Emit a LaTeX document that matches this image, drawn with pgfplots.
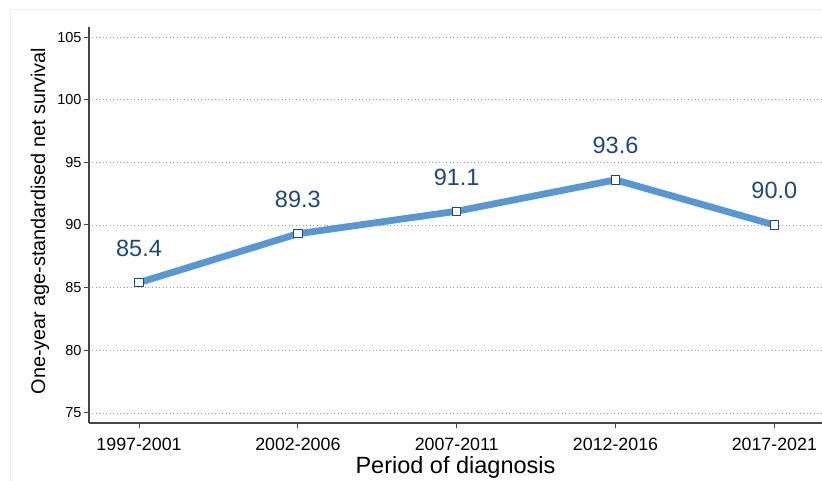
\documentclass[border=0pt]{standalone}
\usepackage{pgfplots}
\pgfplotsset{compat=1.18}
\usepackage{fontspec}
\setmainfont{Liberation Sans}
\definecolor{lineblue}{RGB}{88,151,210}
\definecolor{labblue}{RGB}{30,72,115}
\definecolor{axgray}{RGB}{70,70,70}
\definecolor{framegray}{RGB}{238,238,238}
\begin{document}
\begin{tikzpicture}
\begin{axis}[
  scale only axis, width=733pt, height=396pt,
  at={(0pt,0pt)}, anchor=south west,
  xmin=-0.315, xmax=4.30, ymin=74.2, ymax=105.8,
  axis x line*=bottom, axis y line*=left,
  axis line style={axgray, line width=1.1pt},
  xtick={0,1,2,3,4},
  xticklabels={1997-2001,2002-2006,2007-2011,2012-2016,2017-2021},
  ytick={75,80,85,90,95,100,105},
  tick align=outside, major tick length=5pt,
  tick style={axgray, line width=1pt},
  ymajorgrids,
  grid style={gray!80, line width=0.9pt, dash pattern=on 0.9pt off 2.6pt},
  /pgf/number format/assume math mode=true,
  yticklabel style={font=\fontsize{14.5}{15}\selectfont, text=black, xshift=1pt},
  xticklabel style={font=\fontsize{17.8}{18}\selectfont, text=black, yshift=-7pt},
  xlabel={Period of diagnosis},
  ylabel={One-year age-standardised net survival},
  every axis x label/.style={font=\fontsize{23.5}{24}\selectfont, at={(axis description cs:0.5,0)}, anchor=center, yshift=-44pt},
  every axis y label/.style={font=\fontsize{19.8}{20}\selectfont, at={(axis description cs:0,0.5)}, xshift=-49pt, yshift=4pt, rotate=90, anchor=center},
  clip=false,
]
\addplot[lineblue, line width=6.8pt, line join=round,
  mark=square*, mark size=4.2pt,
  mark options={fill=white, draw=labblue, line width=1pt},
  nodes near coords,
  point meta=y,
  every node near coord/.style={anchor=base, yshift=26pt, text=labblue,
     font=\fontsize{23.5}{24}\selectfont,
     /pgf/number format/.cd, fixed, fixed zerofill, precision=1, assume math mode=true},
] coordinates {(0,85.4) (1,89.3) (2,91.1) (3,93.6) (4,90.0)};
\end{axis}
\draw[framegray, line width=0.8pt] (-79pt,-58pt) -- (-79pt,414pt) -- (733pt,414pt);
\pgfresetboundingbox
\useasboundingbox (-89pt,-58pt) rectangle (733pt,423pt);
\end{tikzpicture}
\end{document}
